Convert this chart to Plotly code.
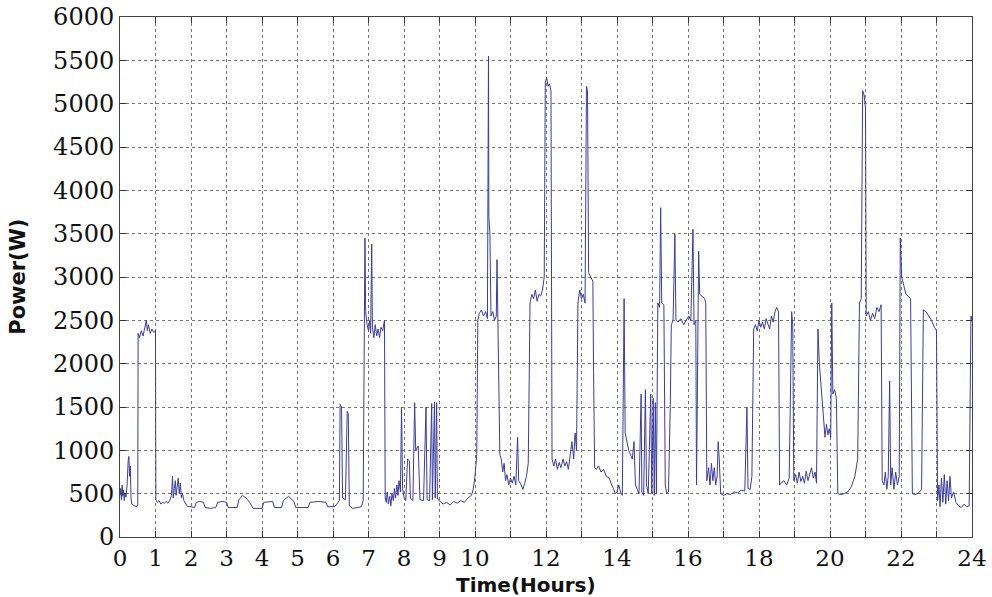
import plotly.graph_objects as go

# Time (hours) and power (W)
time_h = [
 0.00,0.02,0.04,0.06,0.08,0.10,0.12,0.14,0.17,0.20,0.23,0.25,0.27,0.29,0.31,0.33,0.40,0.47,0.50,
 0.51,0.55,0.60,0.65,0.70,0.74,0.77,0.80,0.85,0.90,0.95,1.00,
 1.01,1.05,1.10,1.15,1.20,1.25,1.30,1.35,1.40,1.45,1.48,1.50,1.53,1.56,1.58,1.61,1.64,1.67,1.70,1.73,1.76,1.80,1.85,
 1.90,2.00,2.10,2.15,2.25,2.35,2.40,2.55,2.70,2.75,2.90,3.00,3.05,3.30,3.35,3.45,3.55,3.65,3.75,4.00,
 4.05,4.30,4.35,4.55,4.60,4.75,4.85,4.90,4.95,5.30,5.35,5.60,5.80,5.85,6.05,6.10,6.18,
 6.20,6.24,6.27,6.35,6.40,6.43,6.46,6.55,6.70,6.80,6.85,
 6.88,6.90,6.92,6.96,7.00,7.03,7.06,7.09,7.11,7.15,7.19,7.23,7.27,7.31,7.35,7.40,7.45,
 7.47,7.50,7.53,7.56,7.60,7.63,7.66,7.70,7.73,7.76,7.80,7.83,7.86,7.90,7.93,7.96,
 8.00,8.05,8.10,8.15,8.18,8.25,8.30,8.33,8.40,8.45,8.55,8.62,8.65,8.72,8.78,8.80,8.86,8.88,8.92,8.94,
 9.00,9.10,9.20,9.30,9.40,9.50,9.60,9.70,9.80,9.90,9.95,10.00,10.05,
 10.08,10.12,10.18,10.24,10.30,10.35,10.38,10.39,10.42,10.45,10.50,10.55,10.60,10.62,10.64,10.68,
 10.70,10.74,10.78,10.82,10.86,10.90,10.95,11.00,11.05,11.10,11.15,11.20,11.23,11.30,11.35,11.40,11.45,11.50,
 11.55,11.60,11.65,11.70,11.75,11.80,11.85,11.90,11.95,11.98,12.02,12.06,12.10,12.14,
 12.17,12.22,12.27,12.32,12.37,12.42,12.48,12.53,12.58,12.63,12.68,12.73,12.78,12.82,12.86,
 12.90,12.95,13.00,13.05,13.10,13.14,13.17,13.20,13.26,13.32,13.34,
 13.37,13.42,13.48,13.55,13.62,13.70,13.78,13.85,13.90,13.95,14.00,14.05,14.10,14.15,
 14.20,14.23,14.28,14.33,14.38,14.43,14.48,14.52,14.57,14.62,14.68,14.70,14.75,14.80,14.83,14.88,
 14.95,14.98,15.02,15.05,15.08,15.11,
 15.15,15.20,15.23,15.26,15.32,15.36,15.40,15.45,15.50,15.53,15.58,15.63,15.66,15.72,15.80,15.88,15.95,
 16.02,16.08,16.14,16.17,16.22,16.24,16.27,16.30,16.33,16.40,16.47,16.50,
 16.53,16.58,16.62,16.66,16.70,16.74,16.78,16.82,16.85,16.88,16.92,
 17.00,17.10,17.20,17.30,17.40,17.50,17.60,17.66,17.69,17.75,17.80,
 17.85,17.90,17.95,18.00,18.05,18.10,18.15,18.20,18.25,18.30,18.35,18.40,18.45,18.50,18.55,
 18.58,18.62,18.70,18.78,18.85,18.92,18.95,18.98,19.03,19.08,19.13,19.18,19.23,19.28,19.33,19.38,
 19.43,19.48,19.53,19.58,19.62,19.66,19.70,19.74,19.78,19.82,19.86,19.90,19.94,19.98,20.02,
 20.05,20.08,20.13,20.18,20.22,20.30,20.40,20.50,20.60,20.70,20.78,
 20.83,20.88,20.92,20.96,21.00,21.02,21.08,21.14,21.20,21.26,21.32,21.38,21.44,
 21.47,21.52,21.56,21.60,21.64,21.68,21.71,21.75,21.80,21.85,21.90,21.95,
 21.98,22.02,22.08,22.14,22.20,22.27,22.32,22.40,22.50,22.58,
 22.63,22.70,22.78,22.86,22.94,23.00,
 23.03,23.07,23.10,23.14,23.18,23.22,23.26,23.30,23.34,23.38,23.42,23.48,23.55,23.62,23.70,23.78,
 23.85,23.92,23.97,24.00,
]

power_w = [
 480,560,430,600,470,540,420,500,460,600,880,930,700,820,450,380,360,350,370,
 2350,2300,2380,2320,2420,2500,2380,2450,2350,2400,2360,2380,
 430,400,420,380,400,390,410,390,420,480,700,450,560,650,480,600,680,500,620,450,500,420,390,
 350,350,340,400,410,400,340,330,340,400,410,400,340,340,430,480,450,400,330,330,
 400,410,340,340,420,470,430,410,340,340,400,410,400,350,350,380,420,
 1530,1500,450,430,1450,1420,360,330,340,350,420,
 2500,3450,2600,2450,2380,2500,2350,3380,2420,2300,2450,2320,2400,2300,2420,2380,2500,
 450,400,520,380,470,360,500,420,560,450,600,480,650,520,1500,560,
 460,420,900,880,450,420,1550,1000,1050,430,420,1500,430,420,1540,430,1560,450,1550,440,
 420,380,400,370,410,390,420,400,450,480,550,700,950,
 2500,2580,2620,2550,2600,2520,5550,3700,3500,2550,2600,2500,2550,3200,2480,1800,
 950,900,750,850,650,720,600,680,620,700,600,1150,650,600,550,620,700,850,
 2700,2800,2750,2850,2720,2800,2780,2850,3000,5250,5300,5200,5230,5150,
 900,820,900,780,860,800,900,820,870,780,950,1100,900,1200,1000,
 2700,2850,2750,2800,2700,5200,5150,3050,3000,2950,1900,
 800,780,820,750,780,700,680,600,560,500,520,600,520,480,
 2750,1200,1100,1000,950,900,1100,600,550,500,1650,520,480,1700,600,500,
 1650,500,1600,480,1550,500,
 2700,2650,3800,2700,2680,600,500,520,1500,2450,2500,3500,2500,2480,2520,2450,2500,
 2550,2500,3550,2450,2500,600,2550,3300,2800,2780,2750,2700,
 650,800,600,850,650,800,600,700,1100,900,500,
 480,500,490,520,510,540,530,1500,560,550,700,
 2400,2450,2380,2500,2420,2480,2400,2520,2450,2400,2550,2480,2600,2650,2600,
 600,620,650,600,680,2600,2450,650,720,620,750,640,700,620,760,650,
 720,800,680,750,620,2400,2000,1800,1500,1300,1150,1300,1180,1250,1150,
 2700,1650,1700,1600,500,490,500,520,580,700,900,
 2700,2750,5150,5100,4950,2550,2600,2500,2580,2520,2650,2600,2680,
 650,600,750,550,700,1800,600,800,550,750,600,700,
 3450,3000,2900,2800,2780,2750,500,490,510,550,
 2620,2600,2550,2500,2420,2380,
 420,600,350,680,400,720,380,650,420,700,450,520,400,360,340,380,
 350,360,2550,2500,
]

x_tick_vals = list(range(0, 25))
x_tick_text = [str(v) if (v <= 10 or v % 2 == 0) else "" for v in x_tick_vals]
y_tick_vals = list(range(0, 6001, 500))
y_tick_text = [str(v) for v in y_tick_vals]

fig = go.Figure()
fig.add_trace(go.Scatter(
    x=time_h, y=power_w, mode="lines",
    line=dict(color="#3b3ba5", width=1),
    showlegend=False,
))

axis_font = dict(family="DejaVu Serif", size=23, color="#111111")
fig.update_xaxes(
    range=[0, 24], tickvals=x_tick_vals, ticktext=x_tick_text,
    ticks="inside", ticklen=6, tickcolor="#333333",
    showline=True, linecolor="#444444", linewidth=1, mirror="ticks",
    showgrid=True, gridcolor="#777777", griddash="dot", gridwidth=1,
    zeroline=False, tickfont=axis_font, automargin=False,
)
fig.update_yaxes(
    range=[0, 6000], tickvals=y_tick_vals, ticktext=y_tick_text,
    ticks="inside", ticklen=6, tickcolor="#333333",
    showline=True, linecolor="#444444", linewidth=1, mirror="ticks",
    showgrid=True, gridcolor="#777777", griddash="dot", gridwidth=1,
    zeroline=False, tickfont=dict(family="DejaVu Serif", size=24, color="#111111"),
    automargin=False,
)

fig.update_layout(
    width=992, height=597,
    margin=dict(l=120, r=20, t=17, b=60, autoexpand=False),
    paper_bgcolor="white", plot_bgcolor="white",
    annotations=[
        dict(text="<b>Time(Hours)</b>", xref="paper", yref="paper",
             x=0.4765, y=-0.092, xanchor="center", yanchor="middle", showarrow=False,
             font=dict(family="DejaVu Sans", size=20, color="#111111")),
        dict(text="<b>Power(W)</b>", xref="paper", yref="paper",
             x=-0.12, y=0.5, xanchor="center", yanchor="middle", showarrow=False,
             textangle=-90,
             font=dict(family="DejaVu Sans", size=21, color="#111111")),
    ],
)

fig.write_html(
    "out.html",
    config={"displayModeBar": False},
    post_script="document.body.style.margin='0';document.body.style.overflow='hidden';",
)
